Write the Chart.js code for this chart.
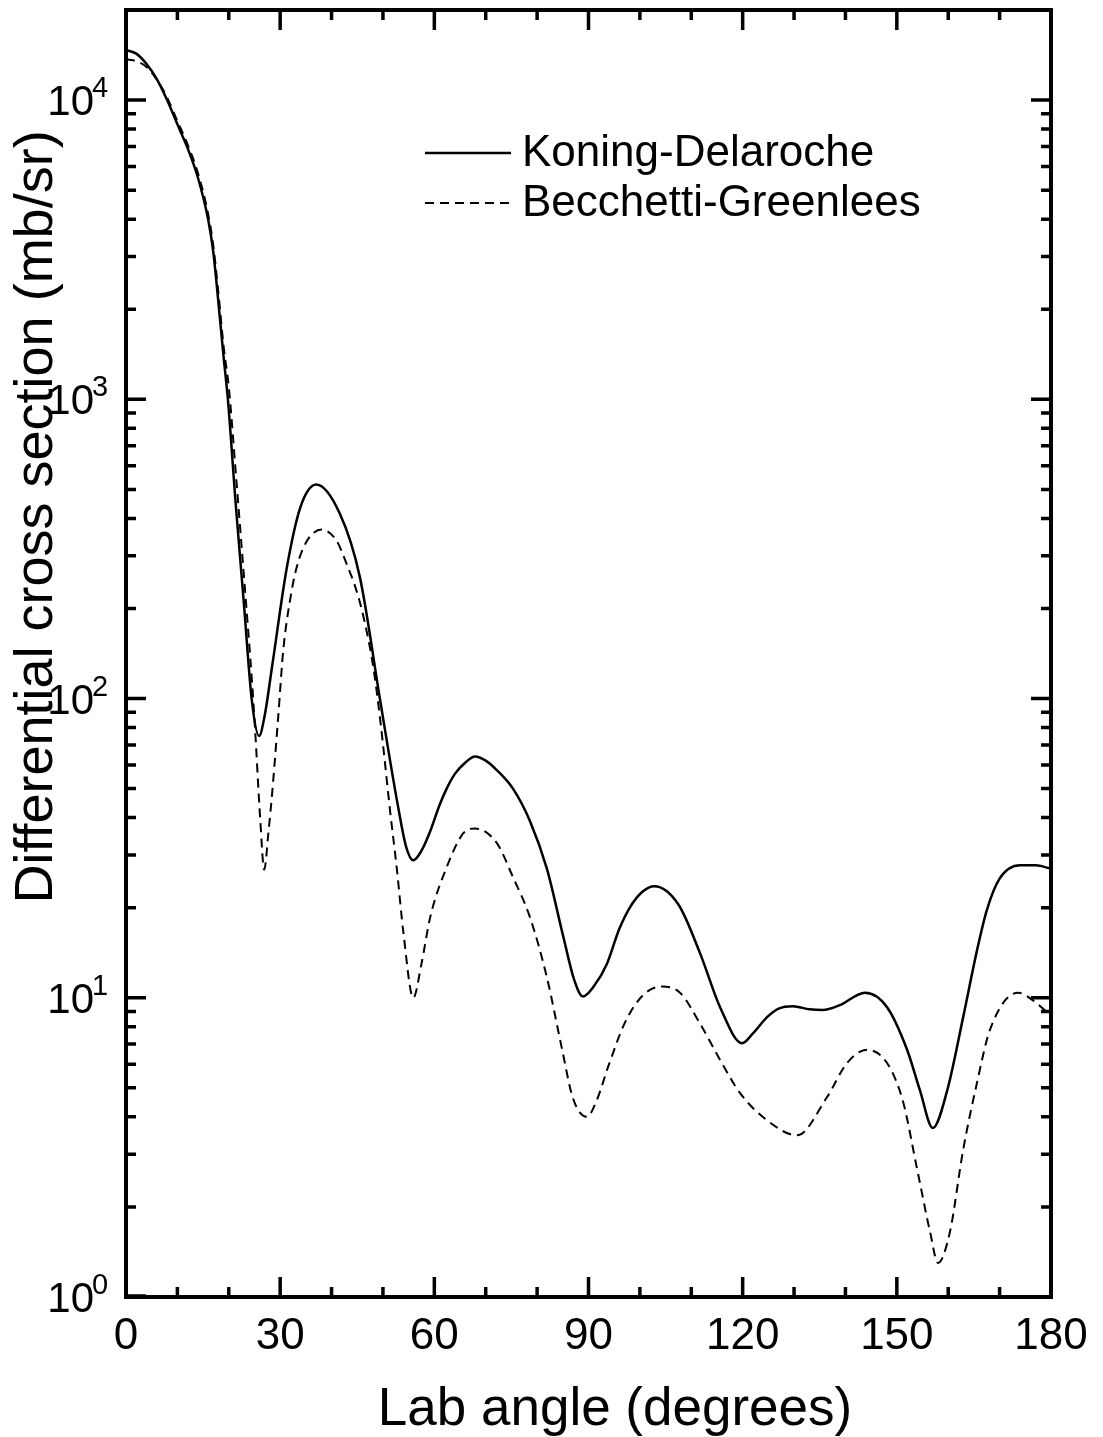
<!DOCTYPE html>
<html>
<head>
<meta charset="utf-8">
<script src="https://cdn.jsdelivr.net/npm/chart.js@4/dist/chart.umd.min.js"></script>
<style>
  html, body { margin: 0; padding: 0; background: #fff; }
  #wrap { width: 1103px; height: 1437px; position: relative; }
</style>
</head>
<body>
<div id="wrap"><canvas id="xsChart"></canvas></div>
<script>
/* Differential cross section vs lab angle, two optical-model potentials */

// Koning-Delaroche (solid)
const kdAngle = [0, 2, 4, 6, 8, 10, 12, 14, 16, 17, 18, 19, 19.85, 21.3, 22.9, 24.5, 25.9, 27, 28.4, 31.3, 33.9, 37,
    41.6, 45.5, 49.4, 51, 53, 54.5, 55.9, 57.5, 59.2, 61, 62.4, 64, 66, 67.9, 70, 72, 75.3, 78.6, 81.9, 85.1, 87.2,
    88.9, 91, 93.6, 96, 98.1, 100.5, 102.8, 107.5, 111.7, 115.6, 119.9, 122, 124.7, 127, 129.8, 133, 135.6, 138.9,
    143.8, 148.1, 152, 154.5, 157, 159.8, 162.9, 165.6, 167.5, 170, 174, 177, 180];
const kdValue = [14700, 14300, 13200, 11750, 10000, 8300, 6900, 5500, 3980, 3090, 2090, 1380, 990, 458, 212, 98, 75, 88, 127, 274, 434, 519,
    415, 255, 100, 68, 43, 32, 28.8, 31, 36, 44, 50, 56, 61, 64, 62, 58, 50, 39, 27, 16, 11.5,
    10.1, 10.9, 13.0, 17, 20.1, 22.6, 23.6, 20.5, 14.1, 9.3, 7.05, 7.6, 8.6, 9.2, 9.37, 9.15, 9.1, 9.45,
    10.4, 9.3, 6.7, 4.9, 3.67, 4.9, 8.6, 14.4, 19.6, 25, 27.7, 27.7, 27];

// Becchetti-Greenlees (dashed)
const bgAngle = [0, 2, 4, 6, 8, 10, 12, 14, 16, 17, 18, 19, 20, 21.5, 23, 24.5, 25.1, 26.1, 26.9, 27.7, 28.6, 29.6,
    30.6, 31.9, 33.2, 35.2, 38.1, 41, 43, 44.9, 46.2, 48.1, 49.5, 51.4, 52.7, 54, 55.9, 57.5, 59.2, 62.4,
    65.6, 67.9, 72.2, 75.3, 78.6, 81.9, 84.8, 87, 89.7, 91.5, 94, 97, 100.6, 104.3, 107.8, 111.7, 115.6,
    119.5, 124.7, 130.6, 136.4, 140.3, 144.2, 148.1, 151.2, 153.9, 156.5, 158, 160.3, 162.9, 165.6, 168.1,
    173.6, 176.5, 180];
const bgValue = [13700, 13500, 12900, 11700, 10200, 8500, 7100, 5700, 4150, 3250, 2250, 1500, 1100, 530, 250, 115, 80, 40, 26.8, 35.4, 52, 86,
    145, 212, 274, 336, 367, 336, 280, 228, 188, 128, 84, 42, 27, 16.4, 10, 13, 18.6, 27.3,
    35.4, 36.8, 32.8, 25.3, 18.6, 11.7, 6.8, 4.6, 4.0, 4.5, 6.0, 8.2, 10.2, 10.9, 10.4, 8.2, 6.2,
    4.8, 3.9, 3.47, 4.65, 6.05, 6.7, 6.05, 4.5, 2.7, 1.64, 1.30, 1.64, 3.1, 5.2, 7.8,
    10.4, 9.8, 8.7];

const seriesNames = ['Koning-Delaroche', 'Becchetti-Greenlees'];
const xMajorTicks = [0, 30, 60, 90, 120, 150, 180];
const xTickLabels = ['0', '30', '60', '90', '120', '150', '180'];
const yDecadeExponents = [0, 1, 2, 3, 4];

const FONT = '"Liberation Sans", Arial, Helvetica, sans-serif';

// draws frame, inward ticks on all four sides, labels, titles and legend
const framePlugin = {
    id: 'frame',
    afterDraw(chart) {
        const ctx = chart.ctx;
        const { left, right, top, bottom } = chart.chartArea;
        const xs = chart.scales.x;
        const ys = chart.scales.y;

        ctx.save();
        ctx.strokeStyle = '#000';
        ctx.fillStyle = '#000';
        ctx.lineWidth = 4;
        ctx.lineCap = 'butt';
        ctx.strokeRect(left, top, right - left, bottom - top);

        // x ticks (minor every 10, major every 30)
        ctx.lineWidth = 3.5;
        for (let a = 10; a < 180; a += 10) {
            const px = xs.getPixelForValue(a);
            const len = (a % 30 === 0) ? 20 : 10;
            ctx.beginPath();
            ctx.moveTo(px, bottom); ctx.lineTo(px, bottom - len);
            ctx.moveTo(px, top); ctx.lineTo(px, top + len);
            ctx.stroke();
        }

        // y ticks (decades major, 2..9 minor)
        yDecadeExponents.forEach(e => {
            for (let m = 1; m <= 9; m++) {
                const v = m * Math.pow(10, e);
                if (v > ys.max) break;
                if (e === 0 && m === 1) continue;
                const py = ys.getPixelForValue(v);
                const len = m === 1 ? 20 : 10;
                ctx.beginPath();
                ctx.moveTo(left, py); ctx.lineTo(left + len, py);
                ctx.moveTo(right, py); ctx.lineTo(right - len, py);
                ctx.stroke();
            }
        });
        // short major mark at 10^0 along the frame
        ctx.beginPath();
        ctx.moveTo(left, ys.getPixelForValue(1) - 1); ctx.lineTo(left + 20, ys.getPixelForValue(1) - 1);
        ctx.stroke();

        // x tick labels
        ctx.font = '44px ' + FONT;
        ctx.textAlign = 'center';
        ctx.textBaseline = 'alphabetic';
        xMajorTicks.forEach((a, i) => {
            ctx.fillText(xTickLabels[i], xs.getPixelForValue(a), bottom + 52);
        });

        // y tick labels with superscript exponent
        yDecadeExponents.forEach(e => {
            const py = ys.getPixelForValue(Math.pow(10, e));
            ctx.font = '42px ' + FONT;
            ctx.textAlign = 'right';
            ctx.fillText('10', 94, py + 15);
            ctx.font = '29px ' + FONT;
            ctx.textAlign = 'left';
            ctx.fillText(String(e), 92, py - 3);
        });

        // axis titles
        ctx.font = '53px ' + FONT;
        ctx.textAlign = 'center';
        ctx.fillText('Lab angle (degrees)', 615, 1425);

        ctx.save();
        ctx.translate(52, 517);
        ctx.rotate(-Math.PI / 2);
        ctx.font = '54px ' + FONT;
        ctx.fillText('Differential cross section (mb/sr)', 0, 0);
        ctx.restore();

        // legend
        const rows = [153, 203];
        ctx.font = '44px ' + FONT;
        ctx.textAlign = 'left';
        ctx.textBaseline = 'middle';
        chart.data.datasets.forEach((ds, i) => {
            ctx.beginPath();
            ctx.lineWidth = ds.borderWidth;
            ctx.setLineDash(ds.borderDash || []);
            ctx.moveTo(425, rows[i]); ctx.lineTo(511, rows[i]);
            ctx.stroke();
            ctx.setLineDash([]);
            ctx.fillText(ds.label, 522, rows[i] + 1);
        });
        ctx.restore();
    }
};

const ctx = document.getElementById('xsChart').getContext('2d');
new Chart(ctx, {
    type: 'line',
    data: {
        datasets: [{
            label: seriesNames[0],
            data: kdAngle.map((a, i) => ({ x: a, y: kdValue[i] })),
            borderColor: '#000',
            borderWidth: 2.5,
            pointRadius: 0,
            fill: false,
            cubicInterpolationMode: 'monotone'
        }, {
            label: seriesNames[1],
            data: bgAngle.map((a, i) => ({ x: a, y: bgValue[i] })),
            borderColor: '#000',
            borderWidth: 2,
            borderDash: [9, 6],
            pointRadius: 0,
            fill: false,
            cubicInterpolationMode: 'monotone'
        }]
    },
    options: {
        responsive: true,
        maintainAspectRatio: false,
        animation: false,
        layout: { padding: { left: 126, right: 52, top: 10, bottom: 140 } },
        scales: {
            x: { type: 'linear', min: 0, max: 180, display: false },
            y: { type: 'logarithmic', min: 1, max: 20000, display: false }
        },
        plugins: {
            legend: { display: false },
            tooltip: { enabled: false }
        }
    },
    plugins: [framePlugin]
});
</script>
</body>
</html>
